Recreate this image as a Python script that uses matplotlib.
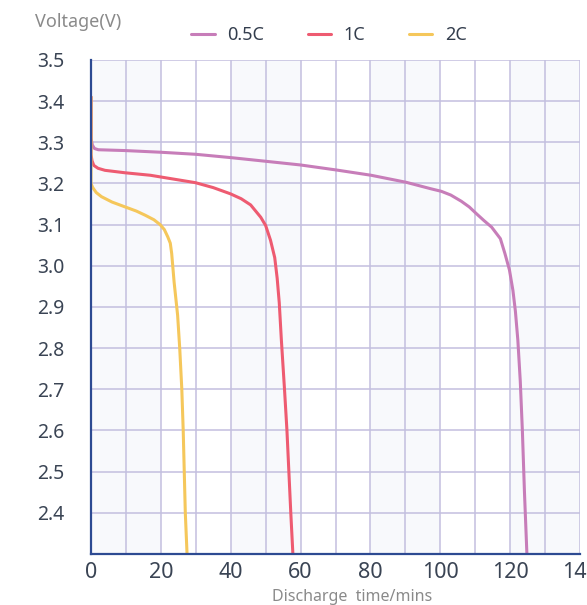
import matplotlib
matplotlib.use('Agg')
import matplotlib.pyplot as plt
import numpy as np

plt.rcParams['font.family'] = ['Noto Sans', 'DejaVu Sans']

# discharge curves (minutes, volts)
t_05c = [0, 0, 0.4, 1.0, 2.1, 9.8, 19.8, 29.9, 39.9, 50.0, 60.0, 70.1, 80.2,
         90.2, 97.4, 100.3, 103.0, 106.0, 108.3, 110.3, 112.5, 114.7, 117.2,
         118.5, 119.8, 120.8, 121.5, 122.2, 122.9, 123.5, 124.1, 124.8]
v_05c = [3.41, 3.31, 3.293, 3.285, 3.282, 3.280, 3.276, 3.271, 3.263, 3.254,
         3.245, 3.233, 3.220, 3.203, 3.187, 3.181, 3.172, 3.157, 3.143, 3.127,
         3.110, 3.094, 3.066, 3.030, 2.990, 2.940, 2.890, 2.820, 2.720, 2.600,
         2.450, 2.30]

t_1c = [0, 0, 0.3, 0.8, 2.0, 4.0, 9.8, 17.0, 22.0, 29.9, 35.0, 39.9, 43.0,
        45.7, 48.6, 50.0, 51.4, 52.6, 53.3, 53.9, 54.5, 55.4, 56.1, 57.2, 57.8]
v_1c = [3.41, 3.27, 3.255, 3.244, 3.237, 3.232, 3.226, 3.220, 3.213, 3.202,
        3.190, 3.175, 3.163, 3.148, 3.118, 3.098, 3.062, 3.020, 2.970, 2.910,
        2.820, 2.700, 2.600, 2.400, 2.30]

t_2c = [0, 0, 0.5, 1.5, 3.0, 6.0, 9.8, 13.0, 15.5, 18.0, 19.8, 21.0, 22.0,
        22.7, 23.1, 23.4, 23.8, 24.3, 24.8, 25.4, 26.0, 26.4, 27.0, 27.5]
v_2c = [3.41, 3.20, 3.190, 3.178, 3.168, 3.155, 3.143, 3.133, 3.123, 3.112,
        3.100, 3.088, 3.070, 3.055, 3.030, 3.000, 2.960, 2.920, 2.880, 2.800,
        2.700, 2.600, 2.400, 2.30]

labels = ['0.5C', '1C', '2C']
colors = ['#c77db9', '#ee5b71', '#f5c75b']

x_ticks = [0, 20, 40, 60, 80, 100, 120, 140]
y_ticks = [2.4, 2.5, 2.6, 2.7, 2.8, 2.9, 3.0, 3.1, 3.2, 3.3, 3.4, 3.5]

fig = plt.figure(figsize=(5.87, 6.05), dpi=100)
ax = fig.add_axes([91/587, 1 - 554/605, 489/587, 494/605])

# alternating shaded bands
for x0 in x_ticks[::2]:
    ax.axvspan(x0, x0 + 20, color='#f8f9fc', zorder=0, lw=0)

for t, v, lab, c in zip([t_05c, t_1c, t_2c], [v_05c, v_1c, v_2c], labels, colors):
    ax.plot(t, v, color=c, lw=2.2, label=lab, solid_joinstyle='round',
            solid_capstyle='round', zorder=3)

ax.set_xlim(0, 140)
ax.set_ylim(2.3, 3.5)
ax.set_xticks(x_ticks)
ax.set_yticks(y_ticks)
ax.set_xticks(np.arange(0, 141, 10), minor=True)
ax.set_yticklabels(['%.1f' % y for y in y_ticks])
ax.grid(True, which='both', axis='x', color='#c3bfdf', lw=1.1, zorder=1)
ax.grid(True, which='major', axis='y', color='#c3bfdf', lw=1.1, zorder=1)
ax.set_axisbelow(True)

ax.tick_params(axis='y', length=0, pad=19, labelsize=14, labelcolor='#3a4454')
ax.tick_params(axis='x', length=0, pad=6, labelsize=15.5, labelcolor='#3a4454')
ax.tick_params(which='minor', length=0)

for s in ['top', 'right']:
    ax.spines[s].set_visible(False)
for s in ['left', 'bottom']:
    ax.spines[s].set_color('#2d4a92')
    ax.spines[s].set_linewidth(1.6)
    ax.spines[s].set_zorder(4)

fig.text(78/587, 1 - 22/605, 'Voltage(V)', fontsize=13, color='#8a8a8a',
         ha='center', va='center')
fig.text(352/587, 1 - 597/605, 'Discharge  time/mins', fontsize=11.5,
         color='#8a8a8a', ha='center', va='center')

lines, labs = ax.get_legend_handles_labels()
fig.legend(lines, labs, loc='center', bbox_to_anchor=(329/587, 1 - 35/605),
           ncol=3, frameon=False, fontsize=13, handlelength=1.3,
           handletextpad=0.7, columnspacing=2.4, labelcolor='#333d4d')

fig.savefig('out.png', dpi=100, facecolor='white')
